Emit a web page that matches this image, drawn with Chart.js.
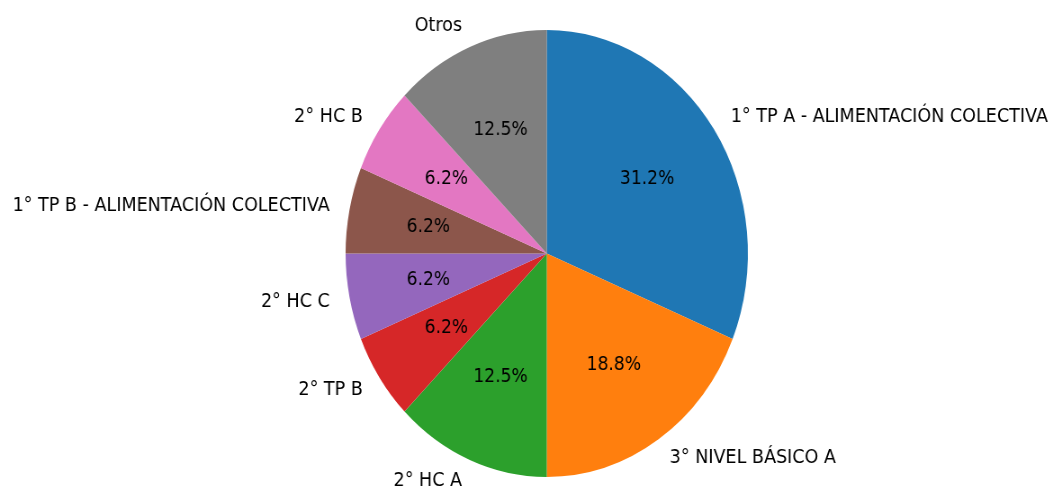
<!DOCTYPE html>
<html>
<head>
<meta charset="UTF-8">
<title>Pie</title>
<script src="https://cdn.jsdelivr.net/npm/chart.js@4.4.0/dist/chart.umd.min.js"></script>
<style>
    html, body { margin: 0; padding: 0; background: #fff; overflow: hidden; }
    /* the reference is squeezed horizontally, so draw wide and scale down */
    #holder { width: 1169px; height: 490px; transform: scaleX(0.9); transform-origin: 0 0; }
</style>
<script>
    var labels = ['1° TP A - ALIMENTACIÓN COLECTIVA', '3° NIVEL BÁSICO A', '2° HC A', '2° TP B',
                  '2° HC C', '1° TP B - ALIMENTACIÓN COLECTIVA', '2° HC B', 'Otros'];
    var counts = [5, 3, 2, 1, 1, 1, 1, 2];
    var colors = ['#1f77b4', '#ff7f0e', '#2ca02c', '#d62728', '#9467bd', '#8c564b', '#e377c2', '#7f7f7f'];

    // like printf %.1f (round half to even)
    function fmt(v) {
        var s = v * 10, f = Math.floor(s), d = s - f;
        if (Math.abs(d - 0.5) < 1e-9) s = (f % 2 == 0) ? f : f + 1;
        else s = Math.round(s);
        return (s / 10).toFixed(1) + '%';
    }

    var pieText = {
        id: 'pieText',
        afterDatasetsDraw: function (chart) {
            var ctx = chart.ctx;
            var meta = chart.getDatasetMeta(0);
            var total = counts.reduce(function (a, b) { return a + b; }, 0);
            ctx.save();
            ctx.fillStyle = '#000';
            ctx.textBaseline = 'middle';
            meta.data.forEach(function (arc, i) {
                var mid = (arc.startAngle + arc.endAngle) / 2;
                var r = arc.outerRadius;
                var lx = arc.x + Math.cos(mid) * r * 1.1;
                var ly = arc.y + Math.sin(mid) * r * 1.1;
                ctx.font = '19.5px "DejaVu Sans"';
                ctx.textAlign = Math.cos(mid) > 0 ? 'left' : 'right';
                ctx.fillText(labels[i], lx, ly);
                ctx.font = '19px "DejaVu Sans"';
                ctx.textAlign = 'center';
                ctx.fillText(fmt(counts[i] / total * 100), arc.x + Math.cos(mid) * r * 0.6, arc.y + Math.sin(mid) * r * 0.6);
            });
            ctx.restore();
        }
    };

    window.onload = function () {
        var ctx = document.getElementById('chart-area').getContext('2d');
        new Chart(ctx, {
            type: 'pie',
            data: {
                labels: labels,
                datasets: [{ data: counts, backgroundColor: colors, borderWidth: 0 }]
            },
            options: {
                responsive: true,
                maintainAspectRatio: false,
                animation: false,
                layout: { padding: { left: 46, right: 0, top: 30, bottom: 13 } },
                plugins: { legend: { display: false }, tooltip: { enabled: false } }
            },
            plugins: [pieText]
        });
    };
</script>
</head>
<body>
    <div id="holder">
        <canvas id="chart-area"></canvas>
    </div>
</body>
</html>
